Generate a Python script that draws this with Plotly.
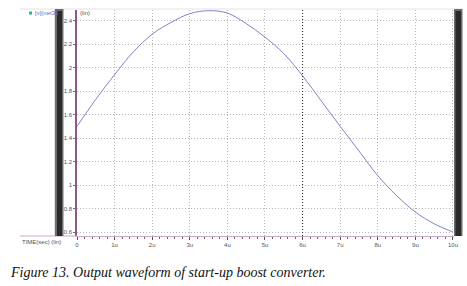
import plotly.graph_objects as go

# ---- data ----
time_us = [0, 0.5, 1.0, 1.5, 2.0, 2.5, 3.0, 3.5, 4.0, 4.5, 5.0,
           5.5, 6.0, 6.5, 7.0, 7.5, 8.0, 8.5, 9.0, 9.5, 10.0]
voltage = [1.50, 1.73, 1.94, 2.135, 2.285, 2.385, 2.46, 2.485, 2.465, 2.375, 2.26,
           2.12, 1.93, 1.715, 1.50, 1.29, 1.08, 0.91, 0.77, 0.67, 0.60]
x_tick_vals = [0, 1, 2, 3, 4, 5, 6, 7, 8, 9, 10]
x_tick_text = ["0", "1u", "2u", "3u", "4u", "5u", "6u", "7u", "8u", "9u", "10u"]
y_tick_vals = [0.6, 0.8, 1.0, 1.2, 1.4, 1.6, 1.8, 2.0, 2.2, 2.4]
y_tick_text = ["0.6", "0.8", "1", "1.2", "1.4", "1.6", "1.8", "2", "2.2", "2.4"]
series_name = "[v](net35"
cursor_time = 6

W, H = 467, 286
L, R, T, B = 77, 13, 10, 50
PW, PH = W - L - R, H - T - B


def px(x):
    return (x - L) / PW


def py(y):
    return (H - B - y) / PH


fig = go.Figure()
fig.add_trace(go.Scatter(
    x=time_us, y=voltage, mode="lines",
    line=dict(color="#8282c8", width=1, shape="spline", smoothing=1.0),
    name=series_name, showlegend=False,
))

tick_font = dict(family="Liberation Sans, Arial, sans-serif", size=6, color="#555555")

fig.update_layout(
    width=W, height=H, autosize=False,
    margin=dict(l=L, r=R, t=T, b=B, pad=0),
    paper_bgcolor="white", plot_bgcolor="white",
    xaxis=dict(
        range=[0, 10.027], tickvals=x_tick_vals, ticktext=x_tick_text,
        showgrid=True, gridcolor="#b8b8b8", griddash="1px,2px", gridwidth=1,
        zeroline=False, showline=True, linecolor="#c8a8c8", linewidth=1,
        ticks="outside", ticklen=3, tickcolor="#555555", tickwidth=1,
        minor=dict(dtick=0.2, ticks="outside", ticklen=2, tickcolor="#666666", showgrid=False),
        tickfont=tick_font, fixedrange=True,
    ),
    yaxis=dict(
        range=[0.566, 2.491], tickvals=y_tick_vals, ticktext=y_tick_text,
        showgrid=True, gridcolor="#b8b8b8", griddash="1px,2px", gridwidth=1,
        zeroline=False, showline=True, linecolor="#8a5a8a", linewidth=1.5,
        ticks="outside", ticklen=2, tickcolor="#8a5a8a", tickwidth=1,
        tickfont=tick_font, fixedrange=True,
    ),
)

shapes = []
# faint top border line
shapes.append(dict(type="line", xref="paper", yref="paper",
                   x0=px(20), x1=px(463), y0=py(9), y1=py(9),
                   line=dict(color="#e2e2e2", width=1)))
# x-axis extension to the left
shapes.append(dict(type="line", xref="paper", yref="paper",
                   x0=px(20), x1=px(77), y0=py(236), y1=py(236),
                   line=dict(color="#c8a8c8", width=1)))
# left dark bar
shapes.append(dict(type="rect", xref="paper", yref="paper",
                   x0=px(55), x1=px(63.5), y0=py(236), y1=py(9),
                   fillcolor="#6c6c6c", line=dict(width=0)))
shapes.append(dict(type="rect", xref="paper", yref="paper",
                   x0=px(57), x1=px(62), y0=py(236), y1=py(11),
                   fillcolor="#2a2a2a", line=dict(width=0)))
shapes.append(dict(type="line", xref="paper", yref="paper",
                   x0=px(55.3), x1=px(55.3), y0=py(236), y1=py(9),
                   line=dict(color="#8a5a8a", width=1)))
# right dark bar
shapes.append(dict(type="rect", xref="paper", yref="paper",
                   x0=px(454), x1=px(462.5), y0=py(236), y1=py(9),
                   fillcolor="#6c6c6c", line=dict(width=0)))
shapes.append(dict(type="rect", xref="paper", yref="paper",
                   x0=px(455.5), x1=px(461), y0=py(236), y1=py(11),
                   fillcolor="#2a2a2a", line=dict(width=0)))
# cursor line
shapes.append(dict(type="line", xref="x", yref="paper",
                   x0=cursor_time, x1=cursor_time, y0=0, y1=1,
                   line=dict(color="#222222", width=1, dash="1px,2px")))
# legend marker
shapes.append(dict(type="rect", xref="paper", yref="paper",
                   x0=px(29), x1=px(32), y0=py(14.5), y1=py(11.5),
                   fillcolor="#1fb5a5", line=dict(width=0)))
fig.update_layout(shapes=shapes)

small = dict(family="Liberation Sans, Arial, sans-serif", size=6, color="#555555")
ann = []
ann.append(dict(text=series_name, xref="paper", yref="paper", x=px(33), y=py(13),
                xanchor="left", yanchor="middle", showarrow=False,
                font=dict(family="Liberation Sans, Arial, sans-serif", size=6, color="#6b6bbf")))
ann.append(dict(text="(lin)", xref="paper", yref="paper", x=px(78), y=py(13),
                xanchor="left", yanchor="middle", showarrow=False, font=small))
ann.append(dict(text="TIME(sec) (lin)", xref="paper", yref="paper", x=px(20), y=py(242),
                xanchor="left", yanchor="middle", showarrow=False, font=small))
ann.append(dict(text="Figure 13. Output waveform of start-up boost converter.",
                xref="paper", yref="paper", x=px(8), y=py(272),
                xanchor="left", yanchor="middle", showarrow=False,
                font=dict(family="Liberation Serif, Times New Roman, serif", size=14,
                          color="#111111", style="italic")))
fig.update_layout(annotations=ann)

fig.write_html("out.html")
